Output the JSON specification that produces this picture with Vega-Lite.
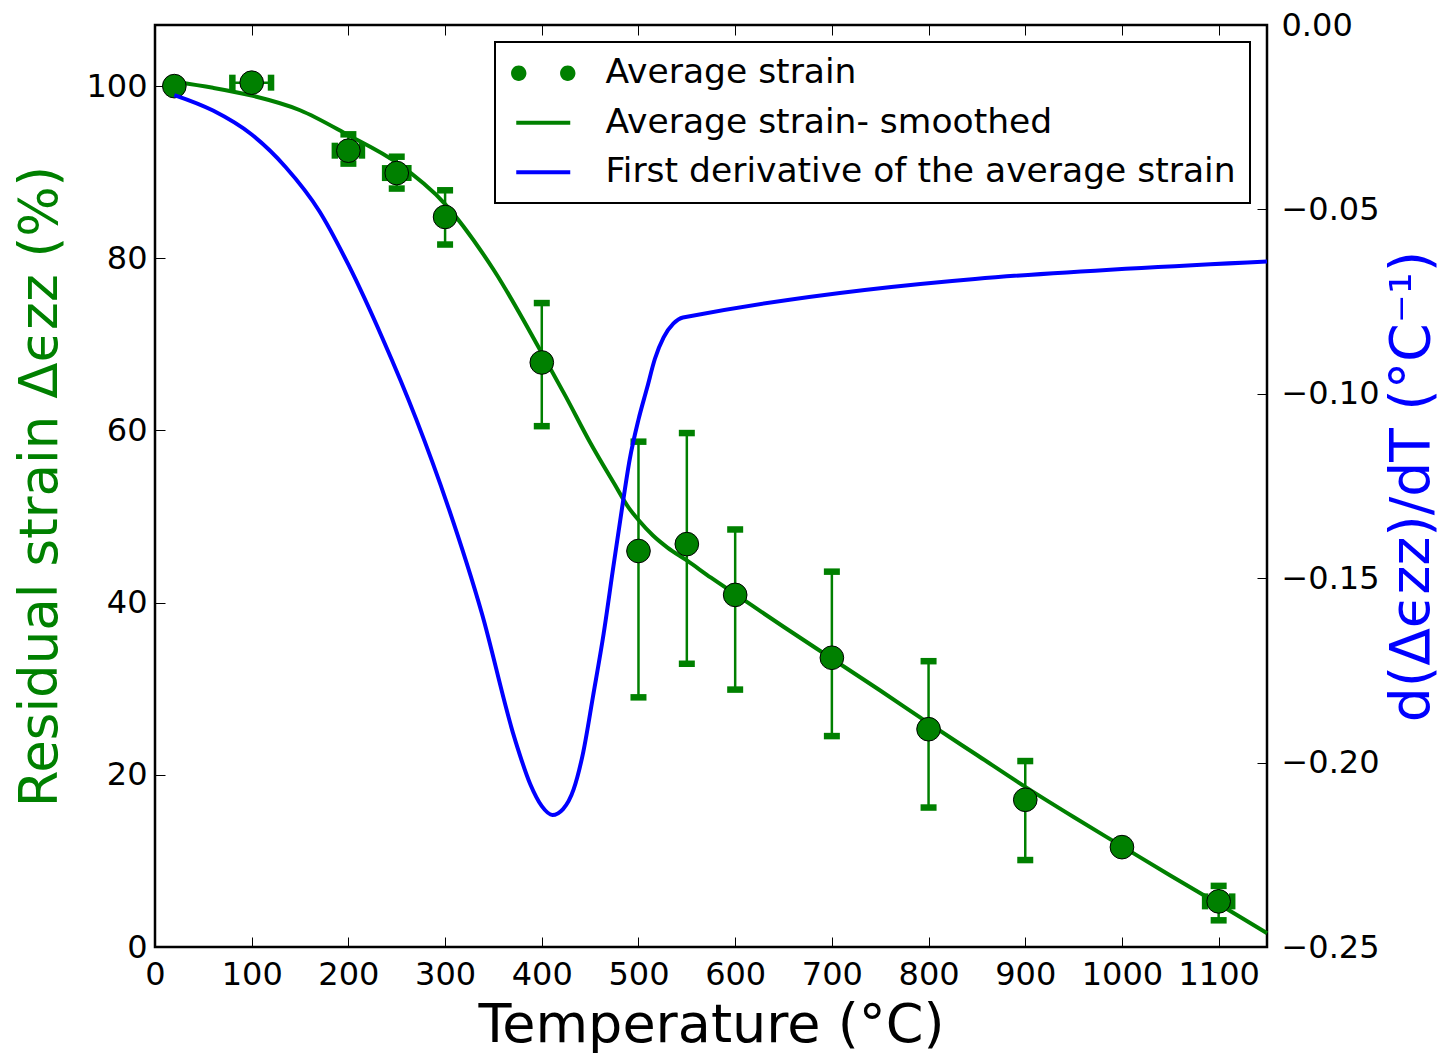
{
  "$schema": "https://vega.github.io/schema/vega-lite/v6.json",
  "width": 1112,
  "height": 922,
  "autosize": {"type": "none"},
  "padding": {"left": 155, "top": 25, "right": 185, "bottom": 106},
  "background": "white",
  "config": {
    "font": "DejaVu Sans",
    "view": {"stroke": "black", "strokeWidth": 2.5},
    "axis": {
      "grid": false, "domain": false, "tickColor": "black", "tickWidth": 1, "tickSize": -10,
      "labelFontSize": 32, "labelColor": "black", "labelFont": "DejaVu Sans",
      "titleFont": "DejaVu Sans", "titleFontWeight": "normal", "titleColor": "black",
      "labelFlush": false, "labelOverlap": false
    },
    "legend": {
      "orient": "top-right", "offset": 17, "padding": 14, "strokeColor": "black", "strokeWidth": 2,
      "fillColor": "white", "cornerRadius": 0, "labelFontSize": 34.5, "labelFont": "DejaVu Sans",
      "labelColor": "black", "labelLimit": 1000, "symbolSize": 900, "symbolStrokeWidth": 0,
      "rowPadding": 14.5, "labelOffset": 45, "symbolOffset": 17
    }
  },
  "datasets": {
    "measured": [
      {"T": 20, "s": 100.0},
      {"T": 100, "s": 100.4, "xlo": 80, "xhi": 120},
      {"T": 200, "s": 92.5, "lo": 91.0, "hi": 94.4, "xlo": 186, "xhi": 214},
      {"T": 250, "s": 89.9, "lo": 88.1, "hi": 91.8, "xlo": 238, "xhi": 262},
      {"T": 300, "s": 84.8, "lo": 81.6, "hi": 87.9},
      {"T": 400, "s": 67.9, "lo": 60.5, "hi": 74.8},
      {"T": 500, "s": 46.0, "lo": 29.0, "hi": 58.7},
      {"T": 550, "s": 46.8, "lo": 32.9, "hi": 59.7},
      {"T": 600, "s": 40.9, "lo": 29.9, "hi": 48.5},
      {"T": 700, "s": 33.6, "lo": 24.5, "hi": 43.6},
      {"T": 800, "s": 25.3, "lo": 16.2, "hi": 33.2},
      {"T": 900, "s": 17.1, "lo": 10.1, "hi": 21.6},
      {"T": 1000, "s": 11.6},
      {"T": 1100, "s": 5.3, "lo": 3.1, "hi": 7.1, "xlo": 1086, "xhi": 1114}
    ],
    "smooth": [
      {"T": 20, "s": 100.5}, {"T": 60, "s": 99.8}, {"T": 100, "s": 98.9}, {"T": 150, "s": 97.2},
      {"T": 200, "s": 94.3}, {"T": 250, "s": 91.1}, {"T": 300, "s": 86.3}, {"T": 350, "s": 78.7},
      {"T": 400, "s": 69.0}, {"T": 425, "s": 63.9}, {"T": 450, "s": 58.6}, {"T": 475, "s": 53.8},
      {"T": 490, "s": 51.0}, {"T": 500, "s": 49.6}, {"T": 515, "s": 47.8}, {"T": 530, "s": 46.4},
      {"T": 550, "s": 44.9}, {"T": 575, "s": 42.9}, {"T": 600, "s": 41.0}, {"T": 650, "s": 37.2},
      {"T": 700, "s": 33.5}, {"T": 750, "s": 29.8}, {"T": 800, "s": 26.0}, {"T": 850, "s": 22.3},
      {"T": 900, "s": 18.6}, {"T": 950, "s": 15.1}, {"T": 1000, "s": 11.7}, {"T": 1050, "s": 8.3},
      {"T": 1100, "s": 5.0}, {"T": 1150, "s": 1.6}
    ],
    "deriv": [
      {"T": 20, "d": -0.0190}, {"T": 60, "d": -0.0232}, {"T": 100, "d": -0.0297}, {"T": 135, "d": -0.0385},
      {"T": 170, "d": -0.0505}, {"T": 200, "d": -0.0650}, {"T": 235, "d": -0.0848}, {"T": 270, "d": -0.1068},
      {"T": 303, "d": -0.1305}, {"T": 338, "d": -0.1595}, {"T": 372, "d": -0.1935}, {"T": 388, "d": -0.2058},
      {"T": 400, "d": -0.2118}, {"T": 411, "d": -0.2142}, {"T": 422, "d": -0.2126}, {"T": 433, "d": -0.2072},
      {"T": 443, "d": -0.1970}, {"T": 453, "d": -0.1820}, {"T": 464, "d": -0.1650}, {"T": 474, "d": -0.1469},
      {"T": 483, "d": -0.1310}, {"T": 491, "d": -0.1177}, {"T": 500, "d": -0.1070}, {"T": 509, "d": -0.0983},
      {"T": 517, "d": -0.0905}, {"T": 526, "d": -0.0847}, {"T": 536, "d": -0.0810}, {"T": 546, "d": -0.0793},
      {"T": 1150, "d": -0.0641}
    ]
  },
  "layer": [
    {
      "layer": [
        {
          "data": {"name": "smooth"},
          "mark": {"type": "line", "color": "#008000", "strokeWidth": 4, "interpolate": "monotone"},
          "encoding": {
            "x": {"field": "T", "type": "quantitative", "scale": {"domain": [0, 1150], "nice": false, "zero": false},
                  "axis": {"orient": "bottom", "values": [0,100,200,300,400,500,600,700,800,900,1000,1100], "format": "d", "labelPadding": 22,
                           "title": "Temperature (°C)", "titleFontSize": 54, "titlePadding": 8}},
            "y": {"field": "s", "type": "quantitative", "scale": {"domain": [0, 107.1], "nice": false, "zero": false},
                  "axis": {"orient": "left", "values": [0,20,40,60,80,100], "labelPadding": 18,
                           "title": "Residual strain Δϵzz (%)", "titleFontSize": 53, "titleColor": "#008000", "titlePadding": 18}}
          }
        },
        {
          "data": {"name": "measured"},
          "transform": [{"filter": "isValid(datum.lo)"}],
          "mark": {"type": "rule", "color": "#008000", "strokeWidth": 2.5},
          "encoding": {
            "x": {"field": "T", "type": "quantitative"},
            "y": {"field": "lo", "type": "quantitative"},
            "y2": {"field": "hi"}
          }
        },
        {
          "data": {"name": "measured"},
          "transform": [{"filter": "isValid(datum.lo)"}],
          "mark": {"type": "tick", "orient": "horizontal", "color": "#008000", "size": 16, "thickness": 6.5, "opacity": 1},
          "encoding": {
            "x": {"field": "T", "type": "quantitative"},
            "y": {"field": "lo", "type": "quantitative"}
          }
        },
        {
          "data": {"name": "measured"},
          "transform": [{"filter": "isValid(datum.hi)"}],
          "mark": {"type": "tick", "orient": "horizontal", "color": "#008000", "size": 16, "thickness": 6.5, "opacity": 1},
          "encoding": {
            "x": {"field": "T", "type": "quantitative"},
            "y": {"field": "hi", "type": "quantitative"}
          }
        },
        {
          "data": {"name": "measured"},
          "transform": [{"filter": "isValid(datum.xlo)"}],
          "mark": {"type": "rule", "color": "#008000", "strokeWidth": 2.5},
          "encoding": {
            "x": {"field": "xlo", "type": "quantitative"},
            "x2": {"field": "xhi"},
            "y": {"field": "s", "type": "quantitative"}
          }
        },
        {
          "data": {"name": "measured"},
          "transform": [{"filter": "isValid(datum.xlo)"}],
          "mark": {"type": "tick", "orient": "vertical", "color": "#008000", "size": 16, "thickness": 6.5, "opacity": 1},
          "encoding": {
            "x": {"field": "xlo", "type": "quantitative"},
            "y": {"field": "s", "type": "quantitative"}
          }
        },
        {
          "data": {"name": "measured"},
          "transform": [{"filter": "isValid(datum.xhi)"}],
          "mark": {"type": "tick", "orient": "vertical", "color": "#008000", "size": 16, "thickness": 6.5, "opacity": 1},
          "encoding": {
            "x": {"field": "xhi", "type": "quantitative"},
            "y": {"field": "s", "type": "quantitative"}
          }
        },
        {
          "data": {"name": "measured"},
          "mark": {"type": "point", "shape": "circle", "filled": true, "fill": "#008000", "stroke": "black", "strokeWidth": 1, "size": 560, "opacity": 1},
          "encoding": {
            "x": {"field": "T", "type": "quantitative"},
            "y": {"field": "s", "type": "quantitative"}
          }
        },
        {
          "data": {"name": "measured"},
          "mark": {"type": "point", "filled": true, "opacity": 0, "size": 900},
          "encoding": {
            "x": {"field": "T", "type": "quantitative"},
            "y": {"field": "s", "type": "quantitative"},
            "color": {"datum": "Average strain", "type": "nominal",
                      "scale": {"domain": ["Average strain", "Average strain- smoothed", "First derivative of the average strain"],
                                "range": ["#008000", "#008000", "#0000ff"]},
                      "legend": {"title": null}},
            "shape": {"datum": "Average strain", "type": "nominal",
                      "scale": {"domain": ["Average strain", "Average strain- smoothed", "First derivative of the average strain"],
                                "range": ["M-2.147,0A0.513,0.513,0,1,0,-1.121,0A0.513,0.513,0,1,0,-2.147,0ZM1.121,0A0.513,0.513,0,1,0,2.147,0A0.513,0.513,0,1,0,1.121,0Z",
                                          "M-1.8,-0.133H1.8V0.133H-1.8Z",
                                          "M-1.8,-0.133H1.8V0.133H-1.8Z"]},
                      "legend": {"title": null}}
          }
        }
      ]
    },
    {
      "data": {"name": "deriv"},
      "mark": {"type": "line", "color": "#0000ff", "strokeWidth": 4, "interpolate": "monotone"},
      "encoding": {
        "x": {"field": "T", "type": "quantitative",
              "axis": {"orient": "top", "values": [0,100,200,300,400,500,600,700,800,900,1000,1100], "labels": false, "title": null}},
        "y": {"field": "d", "type": "quantitative", "scale": {"domain": [-0.25, 0], "nice": false, "zero": false},
              "axis": {"orient": "right", "values": [-0.25,-0.2,-0.15,-0.1,-0.05,0], "format": ".2f", "labelPadding": 24,
                       "title": "d(Δϵzz)/dT    (°C⁻¹)", "titleFontSize": 55, "titleColor": "#0000ff", "titleAngle": 270, "titlePadding": 61}}
      }
    }
  ],
  "resolve": {"scale": {"y": "independent"}}
}
